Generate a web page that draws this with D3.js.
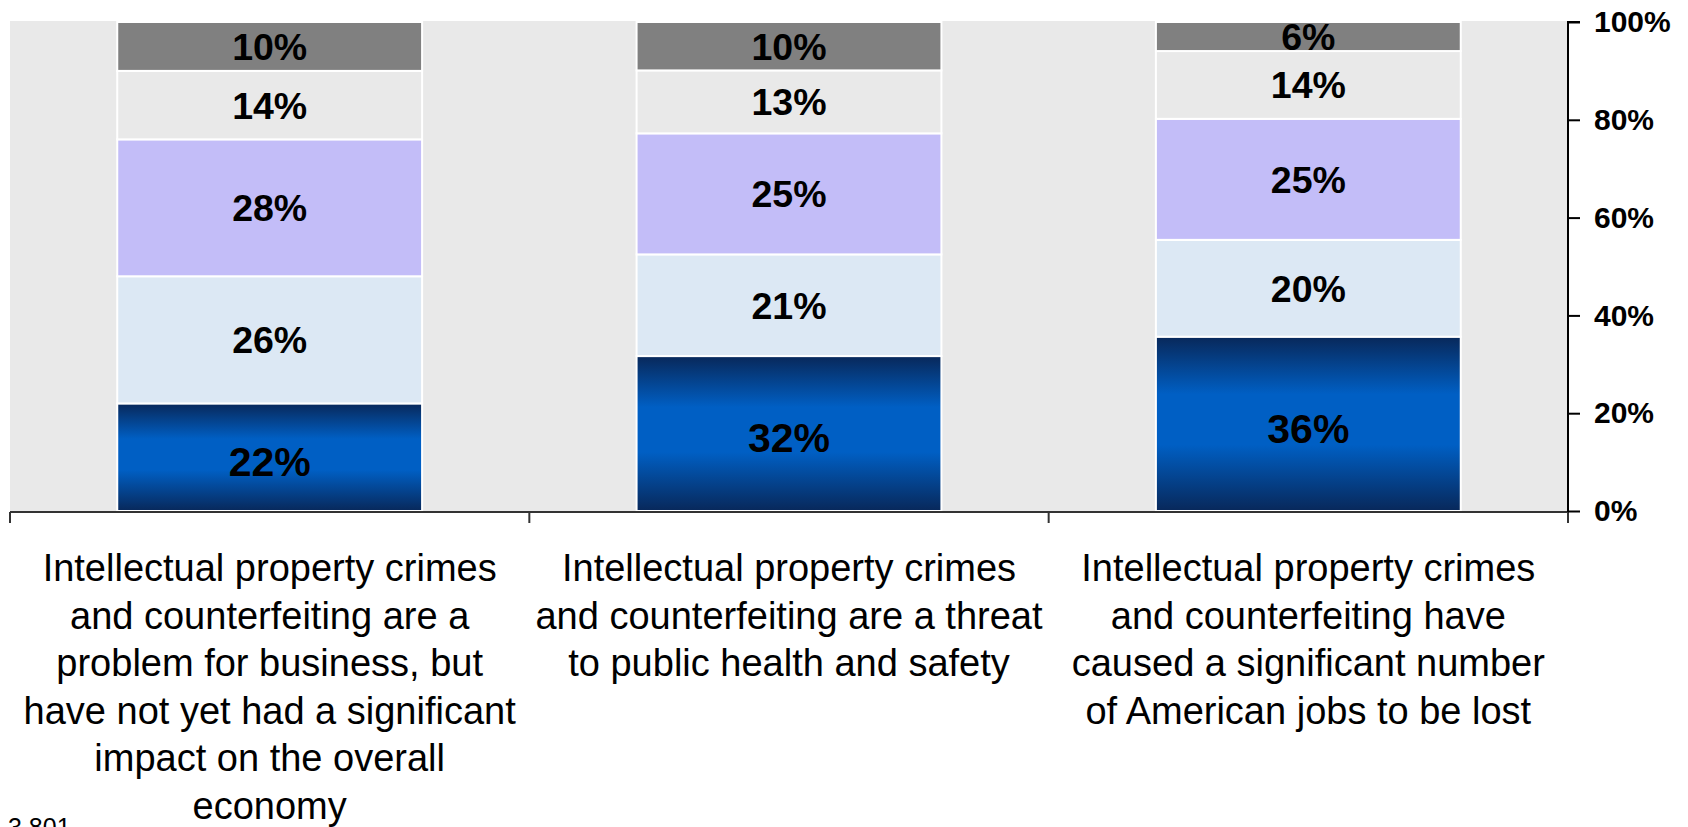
<!DOCTYPE html>
<html>
<head>
<meta charset="utf-8">
<script src="https://cdn.jsdelivr.net/npm/d3@7/dist/d3.min.js"></script>
<style>
  html, body { margin: 0; padding: 0; background: #ffffff; }
  svg { display: block; }
  text { font-family: "Liberation Sans", Arial, Helvetica, sans-serif; }
</style>
</head>
<body>
<svg id="chart" width="1688" height="827"></svg>
<script>
// ---- data ----
const categories = ["cat1", "cat2", "cat3"];
const categoryLines = [
  ["Intellectual property crimes", "and counterfeiting are a", "problem for business, but", "have not yet had a significant", "impact on the overall", "economy"],
  ["Intellectual property crimes", "and counterfeiting are a threat", "to public health and safety"],
  ["Intellectual property crimes", "and counterfeiting have", "caused a significant number", "of American jobs to be lost"]
];
const seriesNames = ["Strongly agree", "Somewhat agree", "Somewhat disagree", "Strongly disagree", "Not sure"];
const seriesValues = {
  "Strongly agree":    [22, 32, 36],
  "Somewhat agree":    [26, 21, 20],
  "Somewhat disagree": [28, 25, 25],
  "Strongly disagree": [14, 13, 14],
  "Not sure":          [10, 10, 6]
};
const yTicks = [0, 0.2, 0.4, 0.6, 0.8, 1.0];
const yTickLabels = ["0%", "20%", "40%", "60%", "80%", "100%"];
const footnote = "3,801";

// ---- layout ----
const svg = d3.select("#chart");
const mLeft = 10, mRight = 1568, mTop = 22, mBottom = 511;

const rows = categories.map((c, i) => {
  const r = { category: c };
  seriesNames.forEach(s => r[s] = seriesValues[s][i]);
  return r;
});
const stack = d3.stack().keys(seriesNames).offset(d3.stackOffsetExpand);
const stacked = stack(rows);

const x = d3.scaleBand().domain(categories).range([mLeft, mRight]).paddingInner(0.413).paddingOuter(0.2065);
const y = d3.scaleLinear().domain([0, 1]).range([mBottom, mTop]);

// gradient for first series
const defs = svg.append("defs");
const grad = defs.append("linearGradient").attr("id", "blueGrad")
  .attr("x1", 0).attr("y1", 0).attr("x2", 0).attr("y2", 1);
[[0, "#08285a"], [0.33, "#005fc4"], [0.62, "#005fc4"], [1, "#08285a"]].forEach(([o, c]) =>
  grad.append("stop").attr("offset", o).attr("stop-color", c));

const fills = {
  "Strongly agree": "url(#blueGrad)",
  "Somewhat agree": "#dce8f4",
  "Somewhat disagree": "#c3bdf8",
  "Strongly disagree": "#e9e9e9",
  "Not sure": "#808080"
};

// background
svg.append("rect").attr("x", mLeft).attr("y", mTop - 1).attr("width", mRight - mLeft).attr("height", mBottom - mTop + 1)
  .attr("fill", "#e9e9e9");

// bars
const layers = svg.append("g").selectAll("g").data(stacked).join("g")
  .attr("fill", d => fills[d.key]);
layers.selectAll("rect").data(d => d.map(v => ({ v, key: d.key }))).join("rect")
  .attr("x", d => x(d.v.data.category))
  .attr("y", d => y(d.v[1]))
  .attr("width", x.bandwidth())
  .attr("height", d => y(d.v[0]) - y(d.v[1]))
  .attr("stroke", "#ffffff")
  .attr("stroke-width", 2);

// value labels
const labels = svg.append("g");
stacked.forEach((layer, li) => {
  const big = li === 0;
  layer.forEach(v => {
    labels.append("text")
      .attr("x", x(v.data.category) + x.bandwidth() / 2)
      .attr("y", (y(v[0]) + y(v[1])) / 2 + (big ? 4 : 0))
      .attr("dy", "0.36em")
      .attr("text-anchor", "middle")
      .attr("font-weight", "bold")
      .attr("font-size", big ? 41 : 37.5)
      .attr("fill", "#000")
      .text(v.data[layer.key] + "%");
  });
});

// x axis (baseline with ticks at band boundaries)
const xAxisG = svg.append("g");
xAxisG.append("line").attr("x1", mLeft).attr("x2", mRight).attr("y1", mBottom + 1).attr("y2", mBottom + 1)
  .attr("stroke", "#333").attr("stroke-width", 2);
const boundaries = [mLeft].concat(categories.map(c => x(c) + x.bandwidth() + x.step() * x.paddingInner() / 2));
boundaries[boundaries.length - 1] = mRight;
boundaries.forEach(b => {
  xAxisG.append("line").attr("x1", b).attr("x2", b).attr("y1", mBottom + 1).attr("y2", mBottom + 12)
    .attr("stroke", "#333").attr("stroke-width", 2);
});

// y axis on the right
const yAxis = d3.axisRight(y).tickValues(yTicks).tickSize(12).tickPadding(14)
  .tickFormat((d, i) => yTickLabels[i]);
const yG = svg.append("g").attr("transform", `translate(${mRight},0)`).call(yAxis);
yG.select(".domain").attr("stroke", "#000").attr("stroke-width", 2).attr("d", `M12,${mTop}H0V${mBottom + 1}`);
yG.selectAll(".tick line").attr("stroke", "#000").attr("stroke-width", 2);
yG.selectAll(".tick text").attr("font-size", 30).attr("font-weight", "bold").attr("fill", "#000")
  .attr("font-family", "'Liberation Sans', Arial, sans-serif");

// category labels
categories.forEach((c, i) => {
  const t = svg.append("text")
    .attr("text-anchor", "middle")
    .attr("font-size", 38)
    .attr("fill", "#000");
  categoryLines[i].forEach((line, j) => {
    t.append("tspan").attr("x", x(c) + x.bandwidth() / 2).attr("y", 581 + j * 47.6).text(line);
  });
});

// footnote
svg.append("text").attr("x", 8).attr("y", 836).attr("font-size", 25).attr("fill", "#000").text(footnote);
</script>
</body>
</html>
